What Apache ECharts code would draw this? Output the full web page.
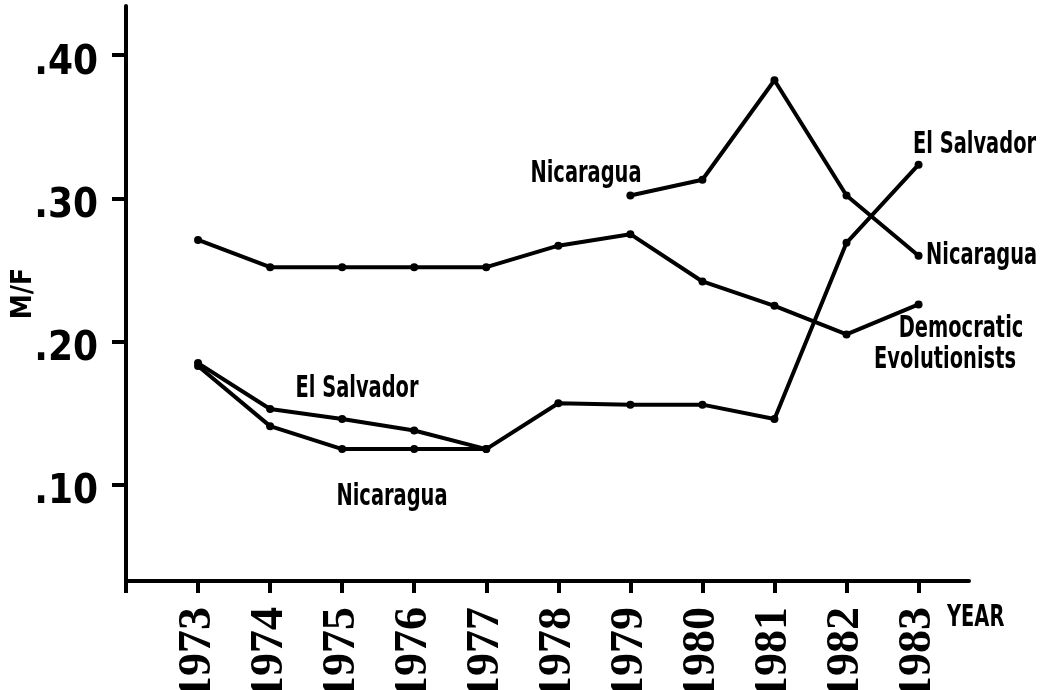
<!DOCTYPE html>
<html>
<head>
<meta charset="utf-8">
<script src="https://cdn.jsdelivr.net/npm/echarts@6/dist/echarts.min.js"></script>
<style>
  html, body { margin: 0; padding: 0; background: #fff; }
  #mfChart { width: 1050px; height: 690px; }
</style>
</head>
<body>
<div id="mfChart"></div>
<script>
// years on the x axis (1972 is only the axis origin tick)
const years = [1973, 1974, 1975, 1976, 1977, 1978, 1979, 1980, 1981, 1982, 1983]
const xTicks = [1972, 1973, 1974, 1975, 1976, 1977, 1978, 1979, 1980, 1981, 1982, 1983]
const yTicks = [0.10, 0.20, 0.30, 0.40]

// M/F ratios (null = no point that year)
const elSalvador = [0.185, 0.153, 0.146, 0.138, 0.125, 0.157, 0.156, 0.156, 0.146, 0.269, 0.3235]
const nicaragua = [0.183, 0.141, 0.125, 0.125, 0.125, null, 0.302, 0.313, 0.3825, 0.302, 0.260]
const democraticEvolutionists = [0.271, 0.252, 0.252, 0.252, 0.252, 0.267, 0.275, 0.242, 0.225, 0.205, 0.226]

const gothic = "'DejaVu Sans Condensed', 'Liberation Sans Narrow', sans-serif"
const slab = "'Liberation Serif', 'DejaVu Serif', serif"

function pairs(values) {
  return years.map((y, i) => [y, values[i]])
}

function lineSeries(name, values) {
  return {
    name: name,
    type: 'line',
    data: pairs(values),
    connectNulls: false,
    symbol: 'circle',
    symbolSize: 8,
    lineStyle: { color: '#000', width: 4 },
    itemStyle: { color: '#000' },
    z: 3
  }
}

// condensed bold captions, squeezed horizontally like the original lettering
function note(text, x, y, align) {
  return {
    type: 'text',
    x: x,
    y: y,
    scaleX: 0.72,
    style: {
      text: text,
      fill: '#000',
      font: 'bold 30px ' + gothic,
      align: align || 'left',
      verticalAlign: 'middle'
    }
  }
}

const chart = echarts.init(document.getElementById('mfChart'))
chart.setOption({
  animation: false,
  backgroundColor: '#fff',
  grid: { left: 126, top: 6, right: 81, bottom: 109, containLabel: false, outerBoundsMode: 'none' },
  xAxis: {
    type: 'value',
    min: 1972,
    max: 1983.7,
    splitLine: { show: false },
    axisLine: { lineStyle: { color: '#000', width: 4 } },
    axisTick: { customValues: xTicks, length: 12, lineStyle: { color: '#000', width: 4 } },
    axisLabel: {
      customValues: years,
      rotate: 90,
      margin: 26,
      color: '#000',
      fontFamily: slab,
      fontWeight: 'bold',
      fontSize: 46,
      formatter: v => String(v)
    }
  },
  yAxis: {
    type: 'value',
    min: 0.0329,
    max: 0.4343,
    name: 'M/F',
    nameLocation: 'middle',
    nameGap: 88,
    nameMoveOverlap: false,
    nameTextStyle: { color: '#000', fontFamily: gothic, fontWeight: 'bold', fontSize: 28 },
    splitLine: { show: false },
    axisLine: { lineStyle: { color: '#000', width: 4 } },
    axisTick: { customValues: yTicks, length: 14, lineStyle: { color: '#000', width: 4 } },
    axisLabel: {
      customValues: yTicks,
      margin: 28,
      color: '#000',
      fontFamily: gothic,
      fontWeight: 'bold',
      fontSize: 40,
      verticalAlign: 'top',
      lineHeight: 16,
      formatter: v => v.toFixed(2).replace(/^0/, '')
    }
  },
  series: [
    lineSeries('Democratic Evolutionists', democraticEvolutionists),
    lineSeries('El Salvador', elSalvador),
    lineSeries('Nicaragua', nicaragua)
  ],
  graphic: [
    note('El Salvador', 357, 389, 'center'),
    note('Nicaragua', 392, 497, 'center'),
    note('Nicaragua', 586, 174, 'center'),
    note('El Salvador', 913, 145),
    note('Nicaragua', 926, 256),
    note('Democratic', 961, 329, 'center'),
    note('Evolutionists', 945, 360, 'center'),
    note('YEAR', 947, 618)
  ]
})
</script>
</body>
</html>
